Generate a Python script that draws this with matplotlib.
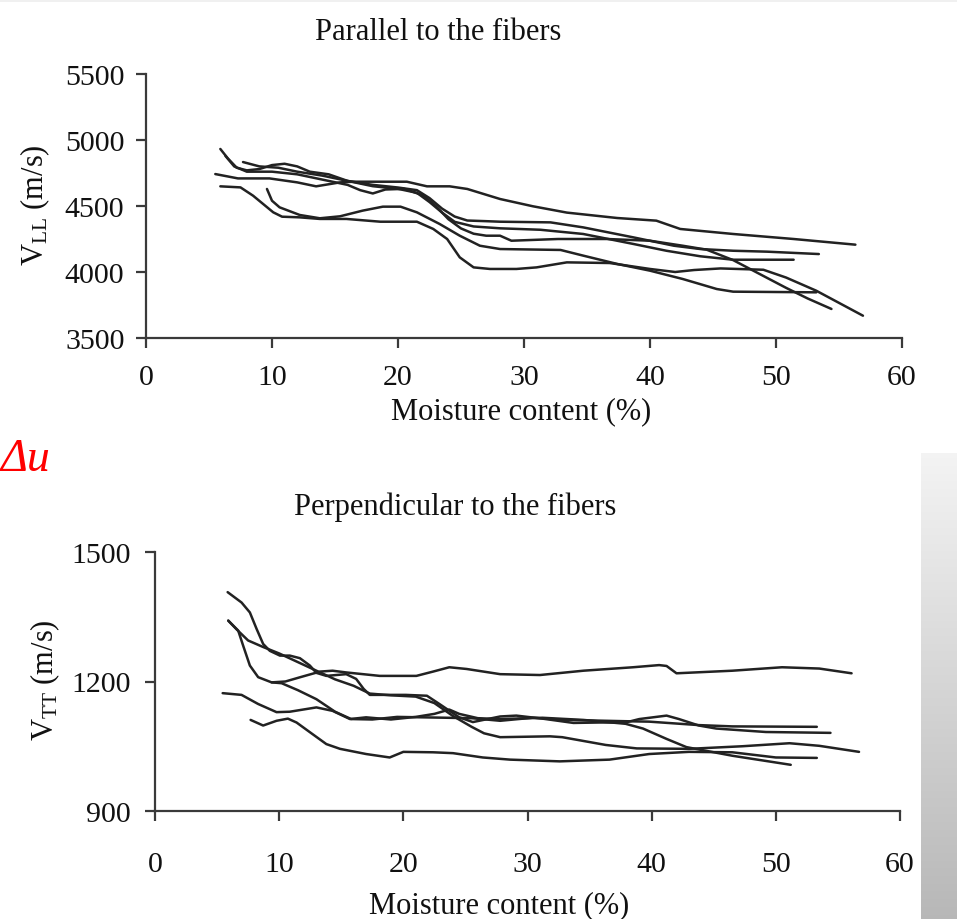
import numpy as np
import matplotlib.pyplot as plt
from matplotlib.patches import Rectangle

plt.rcParams["font.family"] = ["Liberation Serif", "DejaVu Serif"]
plt.rcParams["mathtext.fontset"] = "custom"
plt.rcParams["mathtext.rm"] = "Liberation Serif"
plt.rcParams["mathtext.it"] = "Liberation Serif:italic"

# --- parallel to the fibers (V_LL, m/s) ---
ll_x1 = [5.5, 7.3, 9.8, 12.0, 13.5, 15.4, 16.5, 20.7, 22.3, 24.1, 25.5, 28.1,
         30.7, 33.4, 37.4, 40.5, 42.4, 46.6, 51.4, 56.3]
ll_y1 = [4742, 4709, 4709, 4679, 4649, 4679, 4684, 4684, 4649, 4649, 4629, 4553,
         4498, 4450, 4409, 4389, 4326, 4288, 4250, 4207]
ll_x2 = [7.7, 9.0, 10.5, 12.0, 14.0, 16.0, 18.0, 20.0, 21.5, 22.5, 23.5, 24.5,
         25.5, 27.0, 28.1, 32.1, 34.7, 38.7, 41.9, 44.0, 46.6, 49.3, 53.4]
ll_y2 = [4833, 4800, 4790, 4760, 4730, 4690, 4660, 4640, 4620, 4560, 4480, 4420,
         4390, 4385, 4381, 4376, 4338, 4262, 4199, 4174, 4161, 4154, 4136]
ll_x3 = [5.9, 6.5, 7.2, 8.0, 9.0, 10.0, 11.0, 12.0, 13.0, 14.5, 16.0, 18.0, 20.0,
         21.5, 22.5, 23.5, 24.5, 26.0, 28.1, 31.3, 34.7, 38.7, 41.3, 44.0, 46.6, 51.4]
ll_y3 = [4932, 4860, 4790, 4770, 4780, 4810, 4820, 4800, 4760, 4740, 4690, 4650, 4630,
         4600, 4530, 4450, 4380, 4345, 4331, 4320, 4288, 4212, 4161, 4119, 4093, 4093]
ll_x4 = [6.3, 7.0, 8.0, 10.0, 12.0, 14.0, 16.0, 17.0, 18.0, 19.0, 20.5, 22.0, 23.0,
         24.0, 25.0, 26.0, 27.0, 28.1, 29.0, 32.7, 36.6, 40.0, 42.6, 44.5, 46.6,
         48.2, 50.8, 52.5, 54.4]
ll_y4 = [4880, 4800, 4760, 4760, 4740, 4700, 4660, 4620, 4595, 4625, 4630, 4580, 4500,
         4400, 4330, 4290, 4275, 4275, 4237, 4250, 4250, 4237, 4199, 4169, 4090,
         4010, 3880, 3800, 3720]
ll_x5 = [9.6, 10.0, 10.6, 12.2, 13.8, 15.4, 17.2, 18.8, 20.2, 21.5, 23.3, 24.9,
         26.5, 28.1, 32.9, 34.7, 37.4, 40.0, 42.6, 45.3, 46.6, 53.2]
ll_y5 = [4629, 4540, 4490, 4432, 4407, 4422, 4465, 4495, 4495, 4452, 4364, 4275,
         4199, 4174, 4167, 4124, 4061, 4010, 3947, 3871, 3851, 3846]
ll_x6 = [5.9, 7.5, 8.5, 10.1, 10.8, 12.2, 13.8, 15.9, 18.6, 21.5, 22.8, 23.9, 24.9,
         26.0, 27.3, 29.4, 31.0, 33.4, 36.8, 40.0, 42.0, 43.5, 45.6, 49.0, 50.8,
         53.2, 56.9]
ll_y6 = [4649, 4641, 4578, 4452, 4419, 4414, 4402, 4402, 4381, 4381, 4326, 4250, 4111,
         4035, 4023, 4023, 4035, 4073, 4068, 4023, 4000, 4015, 4027, 4017, 3958,
         3858, 3669]

# --- perpendicular to the fibers (V_TT, m/s) ---
tt_x1 = [5.85, 6.97, 7.64, 8.18, 8.71, 9.25, 10.06, 10.86, 11.67, 12.47, 13.0, 13.8,
         15.4, 16.2, 16.8, 17.3, 20.2, 21.9, 22.9, 24.5, 25.6, 27.8, 29.1, 31.2,
         33.7, 35.8, 37.9, 39.0, 41.2, 42.2, 43.8, 45.2, 49.2, 54.4]
tt_y1 = [1407, 1383, 1360, 1322, 1287, 1271, 1260, 1260, 1254, 1237, 1220, 1213,
         1217, 1206, 1183, 1169, 1169, 1167, 1148, 1117, 1106, 1119, 1121, 1114,
         1104, 1105, 1105, 1113, 1121, 1113, 1098, 1091, 1083, 1081]
tt_x2 = [5.9, 6.6, 7.5, 8.7, 10.0, 11.5, 13.0, 14.5, 16.0, 17.3, 19.0, 21.0, 22.5,
         24.0, 25.5, 26.5, 27.8, 31.8, 32.8, 36.3, 38.8, 43.0, 47.3, 51.1, 53.5, 56.7]
tt_y2 = [1341, 1320, 1295, 1280, 1265, 1245, 1225, 1205, 1190, 1172, 1168, 1165, 1150,
         1120, 1095, 1080, 1071, 1073, 1071, 1053, 1045, 1044, 1050, 1057, 1051, 1037]
tt_x3 = [5.9, 6.7, 7.1, 7.64, 8.31, 9.39, 10.2, 11.5, 13.0, 14.5, 15.8, 17.5, 19.5,
         21.5, 23.5, 25.5, 27.8, 30.4, 33.1, 37.9, 39.8, 43.8, 46.5, 53.3]
tt_y3 = [1341, 1318, 1283, 1237, 1210, 1198, 1196, 1180, 1159, 1130, 1113, 1112, 1118,
         1117, 1116, 1115, 1109, 1116, 1111, 1108, 1107, 1099, 1096, 1095]
tt_x4 = [5.45, 6.97, 8.3, 9.79, 10.86, 13.0, 14.3, 15.7, 17.0, 19.0, 21.0, 22.5, 23.7,
         24.5, 26.0, 27.8, 31.2, 34.5, 37.9, 39.3, 41.2, 42.8, 46.5, 51.2]
tt_y4 = [1173, 1169, 1148, 1129, 1130, 1140, 1132, 1113, 1117, 1112, 1118, 1125, 1135,
         1125, 1115, 1113, 1116, 1111, 1102, 1091, 1067, 1048, 1028, 1007]
tt_x5 = [7.7, 8.71, 9.79, 10.7, 11.4, 12.5, 13.8, 14.9, 17.0, 18.9, 20.0, 22.4, 24.0,
         26.4, 28.6, 32.6, 36.6, 39.8, 43.0, 46.5, 50.0, 53.3]
tt_y5 = [1111, 1098, 1109, 1114, 1105, 1082, 1055, 1044, 1032, 1024, 1037, 1036, 1034,
         1024, 1019, 1015, 1019, 1032, 1037, 1036, 1024, 1023]
tt_x6 = [9.4, 10.5, 11.7, 13.3, 14.3, 15.4, 18.1, 21.05, 22.4, 23.7, 25.1, 27.8, 31.0,
         34.5, 38.5, 40.6, 41.2, 42.0, 46.5, 50.5, 53.5, 56.1]
tt_y6 = [1198, 1200, 1210, 1223, 1225, 1221, 1213, 1213, 1223, 1233, 1229, 1217, 1215,
         1225, 1233, 1238, 1236, 1219, 1225, 1233, 1230, 1219]

x_ticks = [0, 10, 20, 30, 40, 50, 60]
ll_ticks = [3500, 4000, 4500, 5000, 5500]
tt_ticks = [900, 1200, 1500]

W, H = 957, 920
fig = plt.figure(figsize=(W / 100, H / 100), dpi=100)

LINE = "#222222"
AX = "#3a3a3a"
FS = 22
TICK_FS = 21.5


def style_axes(ax, yticks, xpad, ypad):
    for side in ("top", "right"):
        ax.spines[side].set_visible(False)
    for side in ("left", "bottom"):
        ax.spines[side].set_color(AX)
        ax.spines[side].set_linewidth(1.6)
    ax.set_xlim(0, 60)
    ax.set_ylim(yticks[0], yticks[-1])
    ax.set_xticks(x_ticks)
    ax.set_yticks(yticks)
    ax.tick_params(direction="out", length=7.5, width=1.6, color=AX,
                   labelsize=TICK_FS, labelcolor="#111111")
    ax.tick_params(axis="x", pad=xpad)
    ax.tick_params(axis="y", pad=ypad)
    ax.patch.set_alpha(0)


# top panel
ax1 = fig.add_axes([146 / W, 1 - 339 / H, 756 / W, 264 / H])
for xs, ys in [(ll_x1, ll_y1), (ll_x2, ll_y2), (ll_x3, ll_y3),
               (ll_x4, ll_y4), (ll_x5, ll_y5), (ll_x6, ll_y6)]:
    ax1.plot(xs, ys, color=LINE, lw=1.8, solid_joinstyle="round",
             solid_capstyle="round")
style_axes(ax1, ll_ticks, xpad=11, ypad=8)

# bottom panel
ax2 = fig.add_axes([155 / W, 1 - 812 / H, 745 / W, 259 / H])
for xs, ys in [(tt_x1, tt_y1), (tt_x2, tt_y2), (tt_x3, tt_y3),
               (tt_x4, tt_y4), (tt_x5, tt_y5), (tt_x6, tt_y6)]:
    ax2.plot(xs, ys, color=LINE, lw=1.8, solid_joinstyle="round",
             solid_capstyle="round")
style_axes(ax2, tt_ticks, xpad=21, ypad=10)


# titles and axis labels placed in figure pixels
def ftext(x, y, s, **kw):
    fig.text(x / W, 1 - y / H, s, fontsize=FS, color="#111111",
             ha="center", va="center", **kw)


ftext(438, 33, "Parallel to the fibers")
ftext(521, 412, "Moisture content (%)")
ftext(35, 205, r"V$_{\mathrm{LL}}$ (m/s)", rotation=90)
ftext(455, 507, "Perpendicular to the fibers")
ftext(499, 906, "Moisture content (%)")
ftext(45, 680, r"V$_{\mathrm{TT}}$ (m/s)", rotation=90)

# red annotation on the left edge
fig.text(1 / W, 1 - 471 / H, "Δu", fontsize=33, color="red",
         style="italic", ha="left", va="baseline")

# thin grey strip at the top and grey gradient bar on the right
fig.patches.append(Rectangle((0, 1 - 3 / H), 1, 3 / H, transform=fig.transFigure,
                             facecolor="#f0f0f0", edgecolor="none", zorder=0))
grad_ax = fig.add_axes([921 / W, 0, 36 / W, (H - 454) / H])
shade = np.linspace(0.955, 0.72, 200)[:, None]
grad_ax.imshow(np.dstack([shade, shade, shade]), aspect="auto",
               extent=[0, 1, 0, 1])
grad_ax.axis("off")

fig.savefig("out.png", dpi=100)
